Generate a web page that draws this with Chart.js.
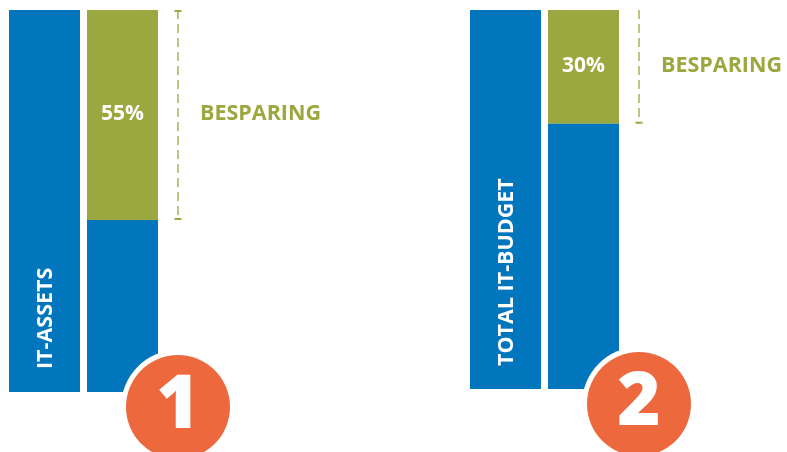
<!DOCTYPE html>
<html>
<head>
<meta charset="utf-8">
<script src="https://cdn.jsdelivr.net/npm/chart.js@4"></script>
<style>
  html, body { margin: 0; padding: 0; background: #ffffff; }
  #wrap { position: relative; width: 787px; height: 452px; overflow: hidden; }
  canvas { position: absolute; left: 0; top: 0; }
</style>
</head>
<body>
<div id="wrap">
  <canvas id="c1" width="787" height="452"></canvas>
  <canvas id="c2" width="787" height="452"></canvas>
</div>
<script>
// ---- data ----
const panelLabels = ["IT-ASSETS", "TOTAL IT-BUDGET"];
const totalPct = [100, 100];
const savingPct = [55, 30];
const remainPct = [45, 70];
const badgeNumbers = ["1", "2"];
const savingLabel = "BESPARING";

// ---- styles ----
const BLUE = "#0176BC";
const GREEN = "#9BA83F";
const ORANGE = "#ED693D";
const FONT = "'Open Sans', 'DejaVu Sans', sans-serif";

const layouts = [
  { padding: { left: 5.5, right: 625.5, top: 10, bottom: 60 }, topCap: true },
  { padding: { left: 466.5, right: 164.5, top: 10, bottom: 63 }, topCap: false }
];

const overlayPlugin = {
  id: "overlay",
  afterDatasetsDraw(chart, args, opts) {
    const i = opts.index;
    const ctx = chart.ctx;
    const totalBar = chart.getDatasetMeta(0).data[0];
    const baseBar = chart.getDatasetMeta(0).data[1];
    const greenBar = chart.getDatasetMeta(1).data[1];
    const gTop = greenBar.y, gBot = greenBar.base;
    const gx = greenBar.x;
    const rightEdge = greenBar.x + greenBar.width / 2;
    const bottom = baseBar.base;

    ctx.save();
    // percent label in the green segment
    ctx.fillStyle = "#ffffff";
    ctx.font = "bold 21px " + FONT;
    ctx.textAlign = "center";
    ctx.textBaseline = "middle";
    ctx.fillText(savingPct[i] + "%", gx, (gTop + gBot) / 2 - 1);

    // dashed bracket
    const dx = rightEdge + 20;
    ctx.strokeStyle = GREEN;
    ctx.lineWidth = 1.3;
    ctx.setLineDash([9, 5]);
    ctx.beginPath();
    ctx.moveTo(dx, gTop);
    ctx.lineTo(dx, gBot);
    ctx.stroke();
    ctx.setLineDash([]);
    ctx.lineWidth = 2;
    ctx.beginPath();
    if (layouts[i].topCap) { ctx.moveTo(dx - 3.5, gTop + 1); ctx.lineTo(dx + 3.5, gTop + 1); }
    ctx.moveTo(dx - 3.5, gBot - 1); ctx.lineTo(dx + 3.5, gBot - 1);
    ctx.stroke();

    // BESPARING label
    ctx.fillStyle = GREEN;
    ctx.font = "bold 21.5px " + FONT;
    ctx.textAlign = "left";
    ctx.textBaseline = "middle";
    ctx.fillText(savingLabel, dx + 22, (gTop + gBot) / 2 - 1);

    // rotated category label in the total bar
    ctx.save();
    ctx.translate(totalBar.x, totalBar.base - 23);
    ctx.rotate(-Math.PI / 2);
    ctx.fillStyle = "#ffffff";
    ctx.font = "bold 21.5px " + FONT;
    ctx.textAlign = "left";
    ctx.textBaseline = "middle";
    ctx.fillText(chart.data.labels[0], 0, 1);
    ctx.restore();

    // badge
    const cx = rightEdge + 20, cy = bottom + 15;
    ctx.fillStyle = "#ffffff";
    ctx.beginPath(); ctx.arc(cx, cy, 57, 0, Math.PI * 2); ctx.fill();
    ctx.fillStyle = ORANGE;
    ctx.beginPath(); ctx.arc(cx, cy, 52, 0, Math.PI * 2); ctx.fill();
    ctx.fillStyle = "#ffffff";
    ctx.font = "800 74px " + FONT;
    ctx.textAlign = "center";
    ctx.textBaseline = "middle";
    ctx.fillText(badgeNumbers[i], cx, cy);
    ctx.restore();
  }
};

function makeChart(id, i) {
  return new Chart(document.getElementById(id), {
    type: "bar",
    data: {
      labels: [panelLabels[i], ""],
      datasets: [
        { label: "base", data: [totalPct[i], remainPct[i]], backgroundColor: BLUE,
          barPercentage: 71 / 78, categoryPercentage: 1, borderWidth: 0 },
        { label: "saving", data: [null, savingPct[i]], backgroundColor: GREEN,
          barPercentage: 71 / 78, categoryPercentage: 1, borderWidth: 0 }
      ]
    },
    options: {
      responsive: false,
      animation: false,
      devicePixelRatio: 1,
      layout: { padding: layouts[i].padding },
      plugins: {
        legend: { display: false },
        tooltip: { enabled: false },
        overlay: { index: i }
      },
      scales: {
        x: { stacked: true, display: false, offset: true },
        y: { stacked: true, display: false, min: 0, max: 100 }
      }
    },
    plugins: [overlayPlugin]
  });
}
makeChart("c1", 0);
makeChart("c2", 1);
</script>
</body>
</html>
